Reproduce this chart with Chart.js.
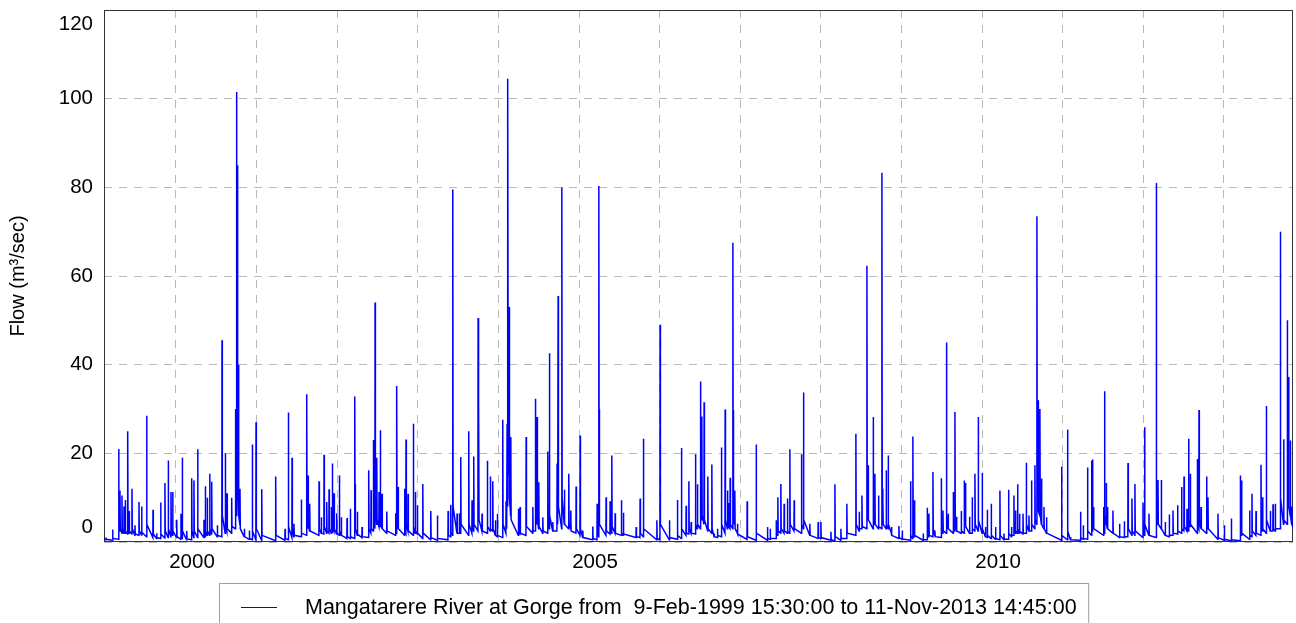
<!DOCTYPE html>
<html>
<head>
<meta charset="utf-8">
<script src="https://cdn.jsdelivr.net/npm/chart.js@4.4.0/dist/chart.umd.min.js"></script>
<style>
  html, body { margin: 0; padding: 0; background: #ffffff; }
  #wrap { width: 1296px; height: 623px; position: relative; overflow: hidden; }
</style>
</head>
<body>
<div id="wrap"><canvas id="c" width="1296" height="623"></canvas></div>
<script>
// ---- Data: [decimal year, flow m3/s] ----
const flow1999 = [
[1999.107,0.6],
[1999.129,0.5],[1999.131,1.0],[1999.135,0.6],
[1999.212,0.4],[1999.214,2.8],[1999.218,0.8],
[1999.287,0.6],[1999.289,21],[1999.293,4],
[1999.303,2.5],[1999.305,11.6],[1999.309,3],
[1999.328,2.0],[1999.330,10.5],[1999.334,3],
[1999.353,2.0],[1999.355,8],[1999.359,2.5],
[1999.369,2.0],[1999.371,9.5],[1999.375,2.5],
[1999.399,1.8],[1999.401,25],[1999.405,5],
[1999.418,2.0],[1999.420,7],[1999.424,2.5],
[1999.452,1.8],[1999.454,12],[1999.458,3],
[1999.489,1.5],[1999.491,3.8],[1999.495,1.8],
[1999.539,1.5],[1999.541,9],[1999.545,2.5],
[1999.572,1.6],[1999.574,8],[1999.578,2.2],
[1999.634,1.2],[1999.636,28.5],[1999.640,4],
[1999.713,1.0],[1999.715,7.3],[1999.719,1.8],
[1999.758,0.8],[1999.760,2],[1999.764,1.0],
[1999.808,0.8],[1999.810,8.9],[1999.814,1.8],
[1999.861,0.9],[1999.863,13.3],[1999.867,2.5],
[1999.902,1.0],[1999.904,18.4],[1999.908,3],
[1999.936,1.2],[1999.938,11.3],[1999.942,3],
[1999.957,1.5],[1999.959,11.3],[1999.963,2.5]
];
const flow2000 = [
[2000.007,1.0],[2000.009,5],[2000.013,1.2],
[2000.060,0.6],[2000.062,6.4],[2000.066,1.2],
[2000.076,0.8],[2000.078,19],[2000.082,2.5],
[2000.131,0.5],[2000.133,2.5],[2000.137,0.7],
[2000.193,0.5],[2000.195,14.4],[2000.199,2.5],
[2000.221,1.0],[2000.223,13.9],[2000.227,2.5],
[2000.267,1.0],[2000.269,20.9],[2000.273,3],
[2000.345,1.0],[2000.347,5],[2000.351,1.5],
[2000.362,1.2],[2000.364,12.6],[2000.368,2.5],
[2000.386,1.5],[2000.388,10],[2000.392,2.5],
[2000.416,1.5],[2000.418,15.4],[2000.422,3],
[2000.441,1.8],[2000.443,13.6],[2000.447,3],
[2000.511,1.2],[2000.513,3.8],[2000.517,1.5],
[2000.569,1.2],[2000.571,45.5],[2000.575,6],
[2000.610,2.0],[2000.612,20],[2000.616,4],
[2000.631,2.5],[2000.633,11],[2000.637,3],
[2000.689,2.0],[2000.691,10],[2000.695,3.5],
[2000.736,3.0],[2000.738,30],[2000.742,8],
[2000.749,6],[2000.751,101.5],[2000.755,20],
[2000.761,12],[2000.763,85],[2000.767,15],
[2000.774,8],[2000.776,40],[2000.780,6],
[2000.792,4],[2000.794,12],[2000.798,3],
[2000.846,1.2],[2000.848,3],[2000.852,1.2],
[2000.908,0.6],[2000.910,2.6],[2000.914,0.8],
[2000.945,0.5],[2000.947,22],[2000.951,2.5],
[2000.991,0.5],[2000.993,27],[2000.997,3]
];
const flow2001 = [
[2001.062,0.4],[2001.064,11.9],[2001.068,1.5],
[2001.235,0.3],[2001.237,14.8],[2001.241,1.5],
[2001.351,0.4],[2001.353,3],[2001.357,0.8],
[2001.392,0.5],[2001.394,29.2],[2001.398,3.5],
[2001.438,1.0],[2001.440,19],[2001.444,3],
[2001.462,1.2],[2001.464,4.1],[2001.468,1.5],
[2001.553,1.2],[2001.555,9.6],[2001.559,2],
[2001.620,1.5],[2001.622,33.3],[2001.626,5],
[2001.636,3],[2001.638,15],[2001.642,4],
[2001.657,2.5],[2001.659,8.6],[2001.663,2.5],
[2001.773,1.5],[2001.775,13.7],[2001.779,3],
[2001.801,2],[2001.803,5.6],[2001.807,2],
[2001.835,1.8],[2001.837,19.7],[2001.841,3.5],
[2001.868,2],[2001.870,9],[2001.874,2.5],
[2001.897,2],[2001.899,11.9],[2001.903,3],
[2001.925,2],[2001.927,7.9],[2001.931,2.5],
[2001.938,2.2],[2001.940,17.7],[2001.944,3.5],
[2001.959,2.5],[2001.961,11],[2001.965,3],
[2001.992,1.8],[2001.994,6.5],[2001.998,2]
];
const flow2002 = [
[2002.025,1.5],[2002.027,15],[2002.031,2.5],
[2002.049,1.5],[2002.051,5.6],[2002.055,1.5],
[2002.120,0.8],[2002.122,5.4],[2002.126,1.2],
[2002.161,0.8],[2002.163,7.5],[2002.167,1.2],
[2002.216,0.8],[2002.218,32.8],[2002.222,6],
[2002.224,5],[2002.225,13],[2002.229,3],
[2002.248,1.5],[2002.250,6.8],[2002.254,1.8],
[2002.306,1.0],[2002.308,3.4],[2002.312,1.2],
[2002.389,1.0],[2002.391,16.2],[2002.395,3],
[2002.418,2],[2002.420,11.7],[2002.424,3],
[2002.447,2.5],[2002.449,23],[2002.453,5],
[2002.468,3],[2002.470,54],[2002.474,8],
[2002.489,4],[2002.491,19],[2002.495,5],
[2002.517,3.5],[2002.519,11.3],[2002.523,4],
[2002.533,3.5],[2002.535,25.2],[2002.539,5],
[2002.554,3],[2002.556,10.9],[2002.560,3],
[2002.613,2],[2002.615,6.9],[2002.619,2.5],
[2002.724,1.5],[2002.726,6.5],[2002.730,2],
[2002.737,2],[2002.739,35.2],[2002.743,5],
[2002.753,3],[2002.755,12.4],[2002.759,3],
[2002.836,1.5],[2002.838,12],[2002.842,2.5],
[2002.852,2],[2002.854,23.1],[2002.858,4],
[2002.877,2.5],[2002.879,10.9],[2002.883,2.5],
[2002.943,1.5],[2002.945,26.7],[2002.949,3.5],
[2002.968,2],[2002.970,11.3],[2002.974,2.5],
[2002.993,1.8],[2002.995,8.3],[2002.999,2]
];
const flow2003 = [
[2003.060,0.8],[2003.062,13.1],[2003.066,2],
[2003.159,0.5],[2003.161,7],[2003.165,1],
[2003.241,0.4],[2003.243,6],[2003.247,0.8],
[2003.374,0.5],[2003.376,7],[2003.380,1.5],
[2003.407,1.2],[2003.409,8.4],[2003.413,2],
[2003.432,1.5],[2003.434,79.5],[2003.438,8],
[2003.485,2],[2003.487,6.4],[2003.491,2],
[2003.514,2],[2003.516,6.5],[2003.520,2],
[2003.531,2],[2003.533,19.2],[2003.537,4],
[2003.630,1.5],[2003.632,25],[2003.636,4],
[2003.671,2],[2003.673,9.4],[2003.677,3],
[2003.692,2.5],[2003.694,19.3],[2003.698,4],
[2003.746,2.5],[2003.748,50.5],[2003.752,9],
[2003.754,8],[2003.756,32],[2003.760,5],
[2003.795,2.5],[2003.797,6.4],[2003.801,2.5],
[2003.861,2],[2003.863,18.3],[2003.867,3.5],
[2003.898,2.5],[2003.900,14.8],[2003.904,3],
[2003.928,2.5],[2003.930,13.7],[2003.934,3],
[2003.961,1.5],[2003.963,4.9],[2003.967,1.5],
[2003.985,1.2],[2003.987,6.4],[2003.991,1.5]
];
const flow2004 = [
[2004.052,1.0],[2004.054,27.6],[2004.058,4],
[2004.093,2],[2004.095,9.2],[2004.099,3],
[2004.106,3],[2004.108,26.7],[2004.112,8],
[2004.116,8],[2004.118,104.5],[2004.122,25],
[2004.131,15],[2004.133,53],[2004.137,10],
[2004.152,6],[2004.154,23.7],[2004.158,5],
[2004.246,1.5],[2004.248,7.5],[2004.252,2],
[2004.267,1.8],[2004.269,7.9],[2004.273,2],
[2004.342,1.5],[2004.344,23.7],[2004.348,3.5],
[2004.425,2],[2004.427,7.9],[2004.431,2.5],
[2004.457,2.5],[2004.459,32.3],[2004.463,6],
[2004.478,4],[2004.480,28.2],[2004.484,5],
[2004.499,3],[2004.501,13.5],[2004.505,3.5],
[2004.549,2],[2004.551,5.6],[2004.555,2.5],
[2004.611,2],[2004.613,20.4],[2004.617,4],
[2004.631,3],[2004.633,42.6],[2004.637,6],
[2004.673,2.5],[2004.675,4.5],[2004.679,2.5],
[2004.726,2.5],[2004.728,17.7],[2004.732,4],
[2004.739,4],[2004.741,55.5],[2004.745,8],
[2004.785,3],[2004.787,80],[2004.791,10],
[2004.817,4],[2004.819,11.8],[2004.823,4],
[2004.871,3],[2004.873,15.4],[2004.877,4],
[2004.896,3],[2004.898,7.1],[2004.902,2.5],
[2004.962,2],[2004.964,12.5],[2004.968,3]
];
const flow2005 = [
[2005.012,1.5],[2005.014,24],[2005.018,3],
[2005.045,1],[2005.047,2.6],[2005.051,1],
[2005.169,0.5],[2005.171,3.5],[2005.175,0.8],
[2005.223,0.5],[2005.225,8.6],[2005.229,1.5],
[2005.244,1.2],[2005.246,80.3],[2005.250,10],
[2005.251,8],[2005.253,30],[2005.257,4],
[2005.334,1.5],[2005.336,10.1],[2005.340,2.5],
[2005.384,1.8],[2005.386,9.2],[2005.390,2.5],
[2005.405,2],[2005.407,19.5],[2005.411,3.5],
[2005.446,2],[2005.448,6.5],[2005.452,2],
[2005.524,1.5],[2005.526,9.4],[2005.530,2],
[2005.549,1.5],[2005.551,6.6],[2005.555,1.8],
[2005.707,1],[2005.709,3.4],[2005.713,1.2],
[2005.756,1],[2005.758,9.8],[2005.762,2],
[2005.797,1.2],[2005.799,23.3],[2005.803,3],
[2005.964,0.5],[2005.966,4.9],[2005.970,0.8]
];
const flow2006 = [
[2006.004,0.5],[2006.006,49],[2006.010,4],
[2006.120,0.5],[2006.122,4.9],[2006.126,1],
[2006.219,0.6],[2006.221,9.5],[2006.225,1.5],
[2006.269,0.8],[2006.271,21.2],[2006.275,3],
[2006.327,1.5],[2006.329,8.2],[2006.333,2],
[2006.361,1.8],[2006.363,13.7],[2006.367,3],
[2006.389,2],[2006.391,4.5],[2006.395,2],
[2006.443,1.8],[2006.445,19.8],[2006.449,4],
[2006.467,3],[2006.469,13],[2006.473,4],
[2006.505,3],[2006.507,36.2],[2006.511,7],
[2006.522,5],[2006.524,28.3],[2006.528,6],
[2006.550,4],[2006.552,31.5],[2006.556,5],
[2006.596,2.5],[2006.598,14.8],[2006.602,3],
[2006.646,2],[2006.648,17.5],[2006.652,3],
[2006.675,1.2],[2006.677,1.9],[2006.681,1.2],
[2006.716,1],[2006.718,3],[2006.722,1.5],
[2006.765,1.2],[2006.767,21.3],[2006.771,4],
[2006.811,2],[2006.813,29.9],[2006.817,5],
[2006.840,3],[2006.842,11.6],[2006.846,4],
[2006.852,3.5],[2006.854,8.8],[2006.858,3.5],
[2006.873,3],[2006.875,14.5],[2006.879,4],
[2006.907,3],[2006.909,67.5],[2006.913,10],
[2006.914,8],[2006.916,29.7],[2006.920,5],
[2006.931,4],[2006.933,11.6],[2006.937,3],
[2006.964,2],[2006.966,4.1],[2006.970,1.8]
];
const flow2007 = [
[2007.084,0.6],[2007.086,9.2],[2007.090,1.2],
[2007.196,0.4],[2007.198,22],[2007.202,2],
[2007.336,0.4],[2007.338,3.4],[2007.342,0.8],
[2007.370,0.6],[2007.372,3],[2007.376,0.8],
[2007.444,0.8],[2007.446,4.9],[2007.450,1.5],
[2007.465,1.5],[2007.467,10.1],[2007.471,2.5],
[2007.502,2],[2007.504,13.1],[2007.508,3],
[2007.543,2],[2007.545,8.6],[2007.549,2.5],
[2007.584,2],[2007.586,9.8],[2007.590,2.5],
[2007.614,2],[2007.616,20.9],[2007.620,4],
[2007.667,2.5],[2007.669,9.4],[2007.673,3],
[2007.758,2],[2007.760,19.8],[2007.764,4],
[2007.783,3],[2007.785,33.7],[2007.789,5],
[2007.862,1.5],[2007.864,4.1],[2007.868,1.5],
[2007.965,0.8],[2007.967,4.5],[2007.971,1],
[2007.999,0.8]
];
const flow2008 = [
[2008.001,4.5],[2008.005,1],
[2008.123,0.4],[2008.125,2.3],[2008.129,0.5],
[2008.173,0.3],[2008.175,13],[2008.179,1.2],
[2008.247,0.4],[2008.249,3],[2008.253,0.8],
[2008.321,0.8],[2008.323,8.6],[2008.327,2],
[2008.433,1.5],[2008.435,24.4],[2008.439,4],
[2008.474,2.5],[2008.476,6.8],[2008.480,3],
[2008.508,3],[2008.510,10.5],[2008.514,3.5],
[2008.570,3],[2008.572,62.3],[2008.576,10],
[2008.586,5],[2008.588,17.3],[2008.592,5],
[2008.648,3],[2008.650,28.2],[2008.654,6],
[2008.669,4],[2008.671,15.4],[2008.675,4],
[2008.714,3],[2008.716,10.5],[2008.720,3.5],
[2008.756,3],[2008.758,83.3],[2008.762,12],
[2008.768,6],[2008.770,9.4],[2008.774,4],
[2008.809,3],[2008.811,16.2],[2008.815,4],
[2008.834,3],[2008.836,19.5],[2008.840,4],
[2008.875,2],[2008.877,3.4],[2008.881,1.5],
[2008.967,0.8],[2008.969,3.6],[2008.973,1]
];
const flow2009 = [
[2009.008,0.6],[2009.010,2.6],[2009.014,0.7],
[2009.111,0.4],[2009.113,13.7],[2009.117,1.5],
[2009.140,0.8],[2009.142,23.8],[2009.146,3],
[2009.160,1.2],[2009.162,9.4],[2009.166,1.5],
[2009.268,0.4],[2009.270,1.9],[2009.274,0.5],
[2009.318,0.5],[2009.320,7.7],[2009.324,1.5],
[2009.339,1.2],[2009.341,6.4],[2009.345,1.5],
[2009.389,1.2],[2009.391,15.8],[2009.395,3],
[2009.413,1.5],[2009.415,2.6],[2009.419,1.2],
[2009.492,1],[2009.494,14.4],[2009.498,3],
[2009.513,2],[2009.515,7.1],[2009.519,2.5],
[2009.557,2],[2009.559,45],[2009.563,6],
[2009.578,3],[2009.580,6.4],[2009.584,3],
[2009.641,2],[2009.643,11.3],[2009.647,3],
[2009.662,2.5],[2009.664,29.3],[2009.668,5],
[2009.682,3],[2009.684,5.7],[2009.688,2.5],
[2009.740,2],[2009.742,7],[2009.746,2.5],
[2009.777,2],[2009.779,13.9],[2009.783,4],
[2009.793,3.5],[2009.795,13.3],[2009.799,3.5],
[2009.843,2],[2009.845,5.7],[2009.849,2],
[2009.876,2],[2009.878,10.1],[2009.882,3],
[2009.910,2.5],[2009.912,15.4],[2009.916,4],
[2009.951,2.5],[2009.953,28.2],[2009.957,5]
];
const flow2010 = [
[2010.000,2],[2010.002,15.6],[2010.006,3],
[2010.041,1.2],[2010.043,3.4],[2010.047,1.2],
[2010.063,1],[2010.065,7.3],[2010.069,1.5],
[2010.112,0.8],[2010.114,8.6],[2010.118,1.5],
[2010.166,0.6],[2010.168,3.4],[2010.172,0.8],
[2010.220,0.5],[2010.222,11.6],[2010.226,1.5],
[2010.270,0.5],[2010.272,1.9],[2010.276,0.6],
[2010.327,0.6],[2010.329,11.8],[2010.333,2],
[2010.364,1.2],[2010.366,3.4],[2010.370,1.5],
[2010.394,1.5],[2010.396,10.5],[2010.400,2.5],
[2010.414,2],[2010.416,7.1],[2010.420,2.5],
[2010.439,2],[2010.441,13],[2010.445,3],
[2010.463,2],[2010.465,6.4],[2010.469,2.5],
[2010.506,1.8],[2010.508,6.4],[2010.512,2],
[2010.547,2],[2010.549,17.9],[2010.553,4],
[2010.580,2.5],[2010.582,6],[2010.586,2.5],
[2010.612,2.5],[2010.614,13.9],[2010.618,4],
[2010.654,3],[2010.656,17.3],[2010.660,5],
[2010.679,4],[2010.681,73.5],[2010.685,12],
[2010.695,8],[2010.697,32],[2010.701,7],
[2010.716,6],[2010.718,30],[2010.722,6],
[2010.736,4],[2010.738,14.3],[2010.742,4],
[2010.766,3],[2010.768,7.9],[2010.772,3],
[2010.798,2],[2010.800,5.6],[2010.804,2],
[2010.985,0.4],[2010.987,17],[2010.991,1.5]
];
const flow2011 = [
[2011.059,0.5],[2011.061,25.4],[2011.065,2.5],
[2011.096,0.5],[2011.098,1.1],[2011.102,0.5],
[2011.220,0.4],[2011.222,6.8],[2011.226,1],
[2011.254,0.6],[2011.256,3.8],[2011.260,0.8],
[2011.307,0.6],[2011.309,16.8],[2011.313,2.5],
[2011.357,1.5],[2011.359,18.4],[2011.363,3],
[2011.369,2.5],[2011.371,18.6],[2011.375,4],
[2011.382,3],[2011.384,7.9],[2011.388,3],
[2011.506,1.5],[2011.508,7.9],[2011.512,2],
[2011.518,2],[2011.520,34],[2011.524,6],
[2011.539,4],[2011.541,13.3],[2011.545,4],
[2011.555,3],[2011.557,7.9],[2011.561,3],
[2011.622,2],[2011.624,7.1],[2011.628,2],
[2011.704,1],[2011.706,4.1],[2011.710,1.2],
[2011.763,1],[2011.765,4.7],[2011.769,1.2],
[2011.809,1.2],[2011.811,17.8],[2011.815,3],
[2011.858,1.5],[2011.860,9.8],[2011.864,2.5],
[2011.895,1.5],[2011.897,13.1],[2011.901,2.5],
[2011.995,1],[2011.997,8.9]
];
const flow2012 = [
[2012.001,2],
[2012.015,1.5],[2012.017,25.9],[2012.021,4],
[2012.069,1.5],[2012.071,6.4],[2012.075,1.5],
[2012.160,1],[2012.162,81],[2012.166,10],
[2012.181,4],[2012.183,14],[2012.187,4],
[2012.222,3],[2012.224,14],[2012.228,3],
[2012.271,1.5],[2012.273,4.5],[2012.277,1.5],
[2012.321,1.2],[2012.323,6.2],[2012.327,1.5],
[2012.367,1.5],[2012.369,7.1],[2012.373,2],
[2012.424,1.8],[2012.426,8.3],[2012.430,2.5],
[2012.474,2],[2012.476,12.4],[2012.480,3],
[2012.504,2.5],[2012.506,14.8],[2012.510,3.5],
[2012.541,2.5],[2012.543,7.5],[2012.547,2.5],
[2012.561,2.5],[2012.563,23.3],[2012.567,5],
[2012.582,3.5],[2012.584,15.4],[2012.588,4],
[2012.669,2],[2012.671,18.7],[2012.675,4],
[2012.690,3],[2012.692,29.8],[2012.696,5],
[2012.715,3],[2012.717,7.9],[2012.721,3],
[2012.784,2],[2012.786,14.8],[2012.790,3.5],
[2012.801,3],[2012.803,10.1],[2012.807,3],
[2012.925,0.6],[2012.927,6.4],[2012.931,1]
];
const flow2013 = [
[2013.004,0.4],[2013.006,3.8],[2013.010,0.6],
[2013.091,0.3],[2013.093,5.3],[2013.097,0.5],
[2013.202,0.3],[2013.204,15],[2013.208,2],
[2013.218,1.5],[2013.220,13.9],[2013.224,2],
[2013.318,0.6],[2013.320,7.1],[2013.324,1.5],
[2013.347,1.2],[2013.349,10.9],[2013.353,2.5],
[2013.397,1.5],[2013.399,7],[2013.403,2],
[2013.459,1.5],[2013.461,17.4],[2013.465,3.5],
[2013.479,2.5],[2013.481,10.1],[2013.485,3],
[2013.525,2],[2013.527,30.7],[2013.531,5],
[2013.575,2.5],[2013.577,7],[2013.581,2.5],
[2013.608,2.5],[2013.610,8.5],[2013.614,3],
[2013.636,2.5],[2013.638,8.6],[2013.642,3],
[2013.699,3],[2013.701,70],[2013.705,10],
[2013.740,4],[2013.742,23.2],[2013.746,5],
[2013.785,4],[2013.787,50],[2013.791,10],
[2013.802,8],[2013.804,37.2],[2013.808,8],
[2013.823,6],[2013.825,22.9],[2013.829,6],
[2013.841,4],[2013.843,8],[2013.847,4],
[2013.858,3]
];

const gridYears = [2000,2001,2002,2003,2004,2005,2006,2007,2008,2009,2010,2011,2012,2013];
const labelYears = [2000,2005,2010];
const yTickValues = [0,20,40,60,80,100,120];
const legendText = 'Mangatarere River at Gorge from  9-Feb-1999 15:30:00 to 11-Nov-2013 14:45:00';
const yTitle = 'Flow (m\u00B3/sec)';

// ---- Build ----
const allPairs = [].concat(flow1999, flow2000, flow2001, flow2002, flow2003, flow2004,
  flow2005, flow2006, flow2007, flow2008, flow2009, flow2010, flow2011, flow2012, flow2013);
const points = allPairs.map(p => ({x: p[0], y: p[1]}));

const FONT = '"Liberation Sans", Arial, Helvetica, sans-serif';

const framePlugin = {
  id: 'frame',
  beforeDatasetsDraw(chart) {
    const {ctx, chartArea: a} = chart;
    ctx.save();
    ctx.strokeStyle = '#333333';
    ctx.lineWidth = 1;
    ctx.strokeRect(a.left + 0.5, a.top + 0.5, a.right - a.left - 1, a.bottom - a.top - 1);
    ctx.restore();
  }
};

const legendPlugin = {
  id: 'boxLegend',
  afterDraw(chart) {
    const ctx = chart.ctx;
    ctx.save();
    ctx.font = '21.5px ' + FONT;
    const tw = ctx.measureText(legendText).width;
    const bx = 219.5, by = 583.5, tx = 305;
    ctx.strokeStyle = '#a0a0a0';
    ctx.lineWidth = 1;
    ctx.strokeRect(bx, by, (tx + tw + 12) - bx, 80);
    ctx.strokeStyle = '#0000ff';
    ctx.beginPath();
    ctx.moveTo(241, 607.5);
    ctx.lineTo(277, 607.5);
    ctx.stroke();
    ctx.fillStyle = '#000000';
    ctx.textBaseline = 'middle';
    ctx.textAlign = 'left';
    ctx.fillText(legendText, tx, 608);
    ctx.restore();
  }
};

new Chart(document.getElementById('c'), {
  type: 'line',
  data: {
    datasets: [{
      label: legendText,
      data: points,
      borderColor: '#0000ff',
      borderWidth: 1.5,
      pointRadius: 0,
      tension: 0,
      fill: false
    }]
  },
  options: {
    responsive: false,
    animation: false,
    events: [],
    layout: { padding: { left: 0, right: 3, top: 10, bottom: 0 } },
    plugins: { legend: { display: false }, tooltip: { enabled: false } },
    scales: {
      x: {
        type: 'linear',
        min: 1999.107,
        max: 2013.858,
        afterBuildTicks: s => { s.ticks = gridYears.map(v => ({ value: v })); },
        afterFit: s => { s.height = 81; s.paddingLeft = 0; s.paddingRight = 0; },
        grid: { color: '#b8b8b8', lineWidth: 1, drawTicks: false },
        border: { display: false, dash: [8, 7] },
        ticks: {
          autoSkip: false, maxRotation: 0, minRotation: 0, padding: 8, labelOffset: 16,
          color: '#000000', font: { family: FONT, size: 20.5 },
          callback: v => labelYears.includes(v) ? String(v) : ''
        }
      },
      y: {
        min: 0,
        max: 120,
        afterBuildTicks: s => { s.ticks = yTickValues.map(v => ({ value: v })); },
        afterFit: s => { s.width = 104; s.paddingTop = 0; s.paddingBottom = 0; },
        grid: { color: '#b8b8b8', lineWidth: 1, drawTicks: false },
        border: { display: false, dash: [8, 7] },
        ticks: {
          autoSkip: false, padding: 11, color: '#000000',
          font: { family: FONT, size: 20.5, lineHeight: 1.42 },
          callback: v => v === 0 ? ['0', ''] : (v === 120 ? ['', '120'] : String(v))
        },
        title: {
          display: true, text: yTitle, color: '#000000',
          font: { family: FONT, size: 20 },
          padding: { top: 6, bottom: 0 }
        }
      }
    }
  },
  plugins: [framePlugin, legendPlugin]
});
</script>
</body>
</html>
